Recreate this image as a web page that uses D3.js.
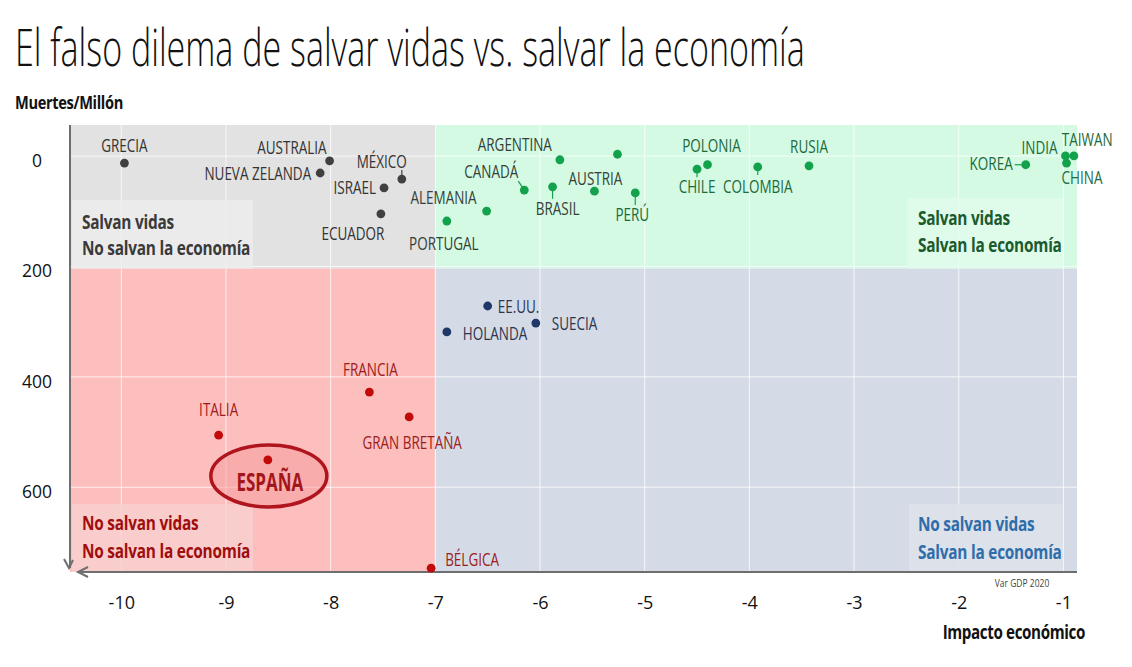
<!DOCTYPE html>
<html><head><meta charset="utf-8">
<script src="https://cdn.jsdelivr.net/npm/d3@7"></script>
<style>
html,body{margin:0;padding:0;background:#fff;}
svg{display:block;}
</style></head>
<body>
<svg id="chart" width="1132" height="667"></svg>
<script>
// ---------- DATA ----------
const countries = ["GRECIA","AUSTRALIA","NUEVA ZELANDA","MÉXICO","ISRAEL","ECUADOR","PORTUGAL","ALEMANIA","CANADÁ","ARGENTINA","BRASIL","AUSTRIA","","PERÚ","CHILE","POLONIA","COLOMBIA","RUSIA","KOREA","INDIA","TAIWAN","CHINA","EE.UU.","HOLANDA","SUECIA","FRANCIA","GRAN BRETAÑA","ITALIA","ESPAÑA","BÉLGICA"];
const gdpChange = [-9.97,-8.01,-8.10,-7.32,-7.49,-7.52,-6.89,-6.51,-6.15,-5.81,-5.88,-5.48,-5.26,-5.09,-4.50,-4.40,-3.92,-3.43,-1.36,-0.98,-0.90,-0.97,-6.50,-6.89,-6.04,-7.63,-7.25,-9.07,-8.60,-7.04];
const deathsPerMillion = [9,5,27,38,54,101,114,96,58,3,52,60,-7,63,20,12,16,14,12,-4,-4,9,268,315,299,424,469,502,547,743];
const xTicks = [-10,-9,-8,-7,-6,-5,-4,-3,-2,-1];
const yTicks = [0,200,400,600];
const gdpThreshold = -7;
const deathsThreshold = 200;
const quadrantLines = {
  tl:["Salvan vidas","No salvan la economía"],
  tr:["Salvan vidas","Salvan la economía"],
  bl:["No salvan vidas","No salvan la economía"],
  br:["No salvan vidas","Salvan la economía"]
};

// ---------- LAYOUT / STYLE ----------
const plot = {left:70, right:1077, top:125, bottom:572};
const FONT = "'Open Sans','Noto Sans',sans-serif";
const svg = d3.select("#chart");

const x = d3.scaleLinear().domain([-10.49,-0.87]).range([plot.left, plot.right]);
const y = d3.scaleLinear().domain([-60,750]).range([plot.top, plot.bottom]);

const quadStyle = {
  tl:{bg:"#e2e2e2", box:"#ececec", text:"#3a3a3a", dot:"#404040", label:"#333333"},
  tr:{bg:"#d4fae3", box:"#e0fbec", text:"#1b5a2e", dot:"#13a24c", label:"#1d6a3c"},
  bl:{bg:"#fdbebe", box:"#f9d0d0", text:"#a00d0d", dot:"#c20a0a", label:"#9b1c1c"},
  br:{bg:"#d5dbe6", box:"#dde2ea", text:"#2f6daa", dot:"#1f3867", label:"#2b3550"}
};
function quad(gx, d){ return (d < deathsThreshold ? "t" : "b") + (gx < gdpThreshold ? "l" : "r"); }

// condensed text helper: place at (px,py), squeeze horizontally
function ctext(g, px, py, sx, txt){
  return g.append("text").attr("transform",`translate(${px},${py}) scale(${sx},1)`)
    .attr("font-family",FONT).text(txt);
}

// Title
const title = svg.append("text").attr("font-family",FONT).attr("font-weight",300)
  .attr("font-size",52).attr("fill","#111")
  .text("El falso dilema de salvar vidas vs. salvar la economía");
const tw = title.node().getComputedTextLength();
title.attr("transform",`translate(15,66) scale(${790/tw},1)`);

// Quadrant backgrounds
const xs = x(gdpThreshold), ys = y(deathsThreshold);
const quads = [
  {k:"tl", x0:plot.left, x1:xs, y0:plot.top, y1:ys},
  {k:"tr", x0:xs, x1:plot.right, y0:plot.top, y1:ys},
  {k:"bl", x0:plot.left, x1:xs, y0:ys, y1:plot.bottom},
  {k:"br", x0:xs, x1:plot.right, y0:ys, y1:plot.bottom}
];
svg.append("g").selectAll("rect").data(quads).join("rect")
  .attr("x",d=>d.x0).attr("y",d=>d.y0).attr("width",d=>d.x1-d.x0).attr("height",d=>d.y1-d.y0)
  .attr("fill",d=>quadStyle[d.k].bg);

// Gridlines
const grid = svg.append("g").attr("stroke","#ffffff").attr("stroke-opacity",0.75).attr("stroke-width",1);
grid.selectAll("line.v").data(xTicks).join("line").attr("class","v")
  .attr("x1",d=>x(d)).attr("x2",d=>x(d)).attr("y1",plot.top).attr("y2",plot.bottom);
grid.selectAll("line.h").data(yTicks).join("line").attr("class","h")
  .attr("x1",plot.left).attr("x2",plot.right).attr("y1",d=>y(d)-2).attr("y2",d=>y(d)-2);

// Quadrant label boxes
const boxes = [
  {k:"tl", x0:72, y0:200, w:181, h:ys-200, tx:82, ty:[229,255]},
  {k:"tr", x0:907, y0:198, w:156, h:ys-198, tx:918, ty:[225,252]},
  {k:"bl", x0:72, y0:504, w:181, h:plot.bottom-504, tx:82, ty:[530,558]},
  {k:"br", x0:909, y0:504, w:154, h:plot.bottom-504, tx:918, ty:[531,559]}
];
const bg = svg.append("g");
boxes.forEach(b=>{
  bg.append("rect").attr("x",b.x0).attr("y",b.y0).attr("width",b.w).attr("height",b.h)
    .attr("fill",quadStyle[b.k].box).attr("opacity",0.85);
  quadrantLines[b.k].forEach((t,i)=>{
    ctext(bg, b.tx, b.ty[i], 0.77, t).attr("font-weight","bold").attr("font-size",20)
      .attr("letter-spacing",-0.3).attr("fill",quadStyle[b.k].text);
  });
});

// Axes (custom arrows)
const axisColor = "#6e6e6e";
svg.append("line").attr("x1",plot.left).attr("x2",plot.left).attr("y1",plot.top).attr("y2",plot.bottom-4)
  .attr("stroke",axisColor).attr("stroke-width",2);
svg.append("path").attr("d",`M${plot.left-6},${plot.bottom-13} L${plot.left-1},${plot.bottom-4} L${plot.left+3},${plot.bottom-12}`)
  .attr("fill","none").attr("stroke",axisColor).attr("stroke-width",2);
svg.append("line").attr("x1",plot.left+8).attr("x2",plot.right).attr("y1",plot.bottom).attr("y2",plot.bottom)
  .attr("stroke",axisColor).attr("stroke-width",2);
svg.append("path").attr("d",`M${plot.left+18},${plot.bottom-5} L${plot.left+8},${plot.bottom} L${plot.left+18},${plot.bottom+5}`)
  .attr("fill","none").attr("stroke",axisColor).attr("stroke-width",2);

// Tick labels via d3 axes
const xAxis = d3.axisBottom(x).tickValues(xTicks).tickSize(0).tickPadding(0).tickFormat(d=>String(d));
const gx = svg.append("g").attr("transform",`translate(0,${plot.bottom+37})`).call(xAxis);
gx.select(".domain").remove();
gx.selectAll("text").attr("font-family",FONT).attr("font-size",18).attr("fill","#111").attr("dy",0);

const yAxis = d3.axisLeft(y).tickValues(yTicks).tickSize(0).tickPadding(0).tickFormat(d=>String(d));
const gy = svg.append("g").attr("transform",`translate(37,0)`).call(yAxis);
gy.select(".domain").remove();
gy.selectAll("text").attr("font-family",FONT).attr("font-size",17.5).attr("fill","#111")
  .attr("text-anchor","middle").attr("dy","0.36em").attr("x",0).attr("transform","translate(0,2)");

// Axis titles
ctext(svg, 15, 109, 0.86, "Muertes/Millón").attr("font-weight","bold").attr("font-size",17)
  .attr("letter-spacing",-0.4).attr("fill","#111");
ctext(svg, 1085, 639, 0.76, "Impacto económico").attr("text-anchor","end").attr("font-weight","bold")
  .attr("font-size",20).attr("letter-spacing",-0.5).attr("fill","#111");
ctext(svg, 1022, 587, 0.85, "Var GDP  2020").attr("text-anchor","middle").attr("font-size",10).attr("fill","#444");

// Label placement: name -> [dx, dy, anchor, leader [x1,y1,x2,y2] relative]
const place = {
  "GRECIA":[0,-11,"middle"],
  "AUSTRALIA":[-3,-7,"end"],
  "NUEVA ZELANDA":[-9,7,"end"],
  "MÉXICO":[5,-11,"end",[0,0,0,-9]],
  "ISRAEL":[-8,6,"end"],
  "ECUADOR":[-28,26,"middle"],
  "PORTUGAL":[-3,29,"middle"],
  "ALEMANIA":[-10,-7,"end"],
  "ARGENTINA":[-8,-9,"end"],
  "CANADÁ":[-6,-12,"end",[0,0,-6,-9]],
  "BRASIL":[5,28,"middle",[0,0,0,12]],
  "AUSTRIA":[1,-6,"middle"],
  "PERÚ":[-3,28,"middle",[0,0,0,12]],
  "POLONIA":[4,-13,"middle"],
  "CHILE":[0,24,"middle",[0,0,0,8]],
  "COLOMBIA":[0,26,"middle",[0,0,0,8]],
  "RUSIA":[0,-13,"middle"],
  "KOREA":[-13,5,"end",[0,0,-11,0]],
  "INDIA":[-8,-2,"end"],
  "TAIWAN":[-12,-10,"start"],
  "CHINA":[-5,21,"start"],
  "EE.UU.":[10,7,"start"],
  "HOLANDA":[16,8,"start"],
  "SUECIA":[16,7,"start"],
  "FRANCIA":[1,-16,"middle"],
  "GRAN BRETAÑA":[3,32,"middle"],
  "ITALIA":[0,-19,"middle"],
  "ESPAÑA":[2,31,"middle"],
  "BÉLGICA":[14,-2,"start"]
};
const darkLabelTR = new Set(["ARGENTINA","CANADÁ","BRASIL","AUSTRIA","ALEMANIA","PORTUGAL"]);

const pts = countries.map((c,i)=>({name:c, gx:gdpChange[i], d:deathsPerMillion[i], q:quad(gdpChange[i],deathsPerMillion[i])}));

// Spain highlight ellipse
const spain = pts.find(p=>p.name==="ESPAÑA");
svg.append("ellipse").attr("cx",x(spain.gx)+1).attr("cy",y(spain.d)+16).attr("rx",58).attr("ry",31)
  .attr("fill","#f59a9a").attr("fill-opacity",0.5).attr("stroke","#b0141c").attr("stroke-width",3.5);

// Leader lines
const gl = svg.append("g");
pts.forEach(p=>{
  const pl = place[p.name];
  if(pl && pl[3]){
    gl.append("line").attr("x1",x(p.gx)+pl[3][0]).attr("y1",y(p.d)+pl[3][1])
      .attr("x2",x(p.gx)+pl[3][2]).attr("y2",y(p.d)+pl[3][3])
      .attr("stroke",quadStyle[p.q].dot).attr("stroke-width",1.2);
  }
});

// Dots
svg.append("g").selectAll("circle").data(pts).join("circle")
  .attr("cx",d=>x(d.gx)).attr("cy",d=>y(d.d)).attr("r",4.4)
  .attr("fill",d=>quadStyle[d.q].dot);

// Labels
svg.append("g").selectAll("text").data(pts.filter(p=>p.name && place[p.name])).join("text")
  .attr("transform",d=>`translate(${x(d.gx)+place[d.name][0]},${y(d.d)+place[d.name][1]}) scale(${d.name==="ESPAÑA"?0.68:0.75},1)`)
  .attr("text-anchor",d=>place[d.name][2])
  .attr("font-family",FONT)
  .attr("font-size",d=>d.name==="ESPAÑA"?25:18)
  .attr("font-weight",d=>d.name==="ESPAÑA"?"bold":"normal")
  .attr("fill",d=> d.name==="ESPAÑA" ? "#a3161b" : (d.q==="tr" && darkLabelTR.has(d.name) ? "#34413a" : quadStyle[d.q].label))
  .text(d=>d.name);
</script>
</body></html>
